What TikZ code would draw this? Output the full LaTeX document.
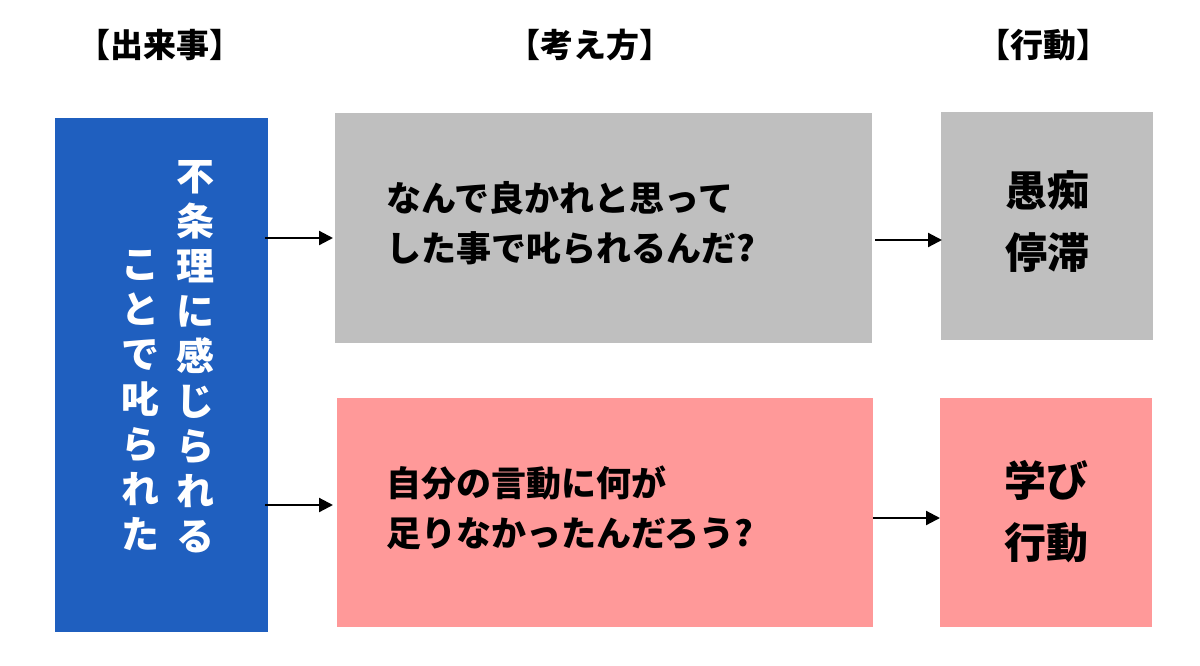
\documentclass[tikz,border=0pt]{standalone}
\usepackage{fontspec}
\setmainfont{Noto Sans CJK JP}
\usetikzlibrary{arrows.meta}
\begin{document}
\begin{tikzpicture}[x=1pt,y=-1pt,
  box/.style={draw=none,inner sep=0pt,anchor=north west},
  hdr/.style={font=\fontsize{33}{36}\selectfont\bfseries},
  txt/.style={font=\fontsize{35}{50}\selectfont\bfseries,align=left,anchor=west},
  big/.style={font=\fontsize{42}{62}\selectfont\bfseries,align=center},
  vch/.style={font=\fontsize{38}{45}\selectfont\bfseries,text=white,align=center,anchor=north},
  arr/.style={-{Triangle[length=14pt,width=14pt]},line width=2.2pt}]
\useasboundingbox (0,0) rectangle (1200,665);
\fill[white] (0,0) rectangle (1200,665);
\node[hdr] (h1) at (160,45) {【出来事】};
\node[hdr] (h2) at (590,45) {【考え方】};
\node[hdr] (h3) at (1043,45) {【行動】};
\node[box,fill={rgb,255:red,31;green,95;blue,191},minimum width=213pt,minimum height=514pt] (ev) at (55,118) {};
\node[box,fill={rgb,255:red,191;green,191;blue,191},minimum width=537pt,minimum height=230pt] (g1) at (335,113) {};
\node[box,fill={rgb,255:red,191;green,191;blue,191},minimum width=212pt,minimum height=228pt] (g2) at (941,112) {};
\node[box,fill={rgb,255:red,255;green,153;blue,153},minimum width=536pt,minimum height=229pt] (p1) at (337,398) {};
\node[box,fill={rgb,255:red,255;green,153;blue,153},minimum width=212pt,minimum height=229pt] (p2) at (940,398) {};
\node[vch] (c1) at (195,157) {不\\条\\理\\に\\感\\じ\\ら\\れ\\る};
\node[vch] (c2) at (140,247) {こ\\と\\で\\叱\\ら\\れ\\た};
\node[txt] (t1) at (383,223) {なんで良かれと思って\\した事で叱られるんだ?};
\node[txt] (t2) at (383,508) {自分の言動に何が\\足りなかったんだろう?};
\node[big] (a1) at (1047,222) {愚痴\\停滞};
\node[big] (a2) at (1046,512) {学び\\行動};
\coordinate (s1) at (265,238);
\coordinate (s2) at (265,505);
\coordinate (e1) at (333,238);
\coordinate (e2) at (333,505);
\coordinate (s3) at (875,240);
\coordinate (e3) at (942,240);
\coordinate (s4) at (873,518);
\coordinate (e4) at (940,518);
\draw[arr] (s1) -- (e1);
\draw[arr] (s2) -- (e2);
\draw[arr] (s3) -- (e3);
\draw[arr] (s4) -- (e4);
\end{tikzpicture}
\end{document}
